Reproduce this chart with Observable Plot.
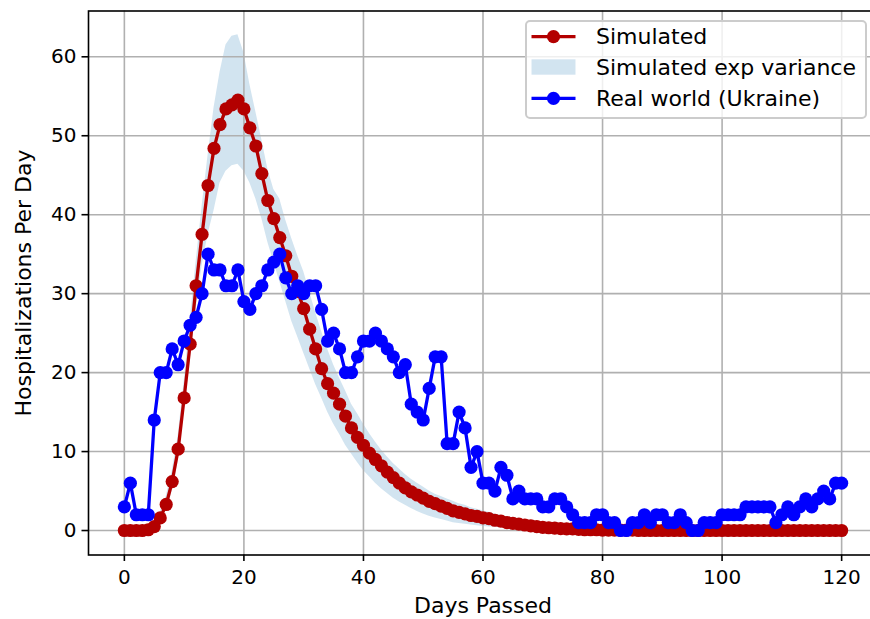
<!DOCTYPE html>
<html><head><meta charset="utf-8">
<script src="https://cdn.jsdelivr.net/npm/d3@7"></script>
<script src="https://cdn.jsdelivr.net/npm/@observablehq/plot@0.6"></script>
<style>
html,body{margin:0;padding:0;background:#fff;overflow:hidden;}
#chart{width:870px;height:619px;overflow:hidden;position:relative;}
#chart svg{max-width:none !important;display:block;}
</style></head><body><div id="chart"></div>
<script>
// Simulated hospitalizations per day (days 0..120)
const simulated = [
  0,0,0,0,0.1,0.5,1.6,3.3,6.2,10.3,
  16.8,23.6,31.0,37.5,43.7,48.4,51.4,53.4,53.9,54.5,
  53.4,51.0,48.7,45.2,41.8,39.5,37.1,34.8,32.2,30.3,
  28.1,25.5,23.0,20.5,18.6,17.4,16.0,14.5,13.0,11.8,
  10.8,9.8,9.0,8.2,7.4,6.7,6.0,5.4,4.9,4.5,
  4.1,3.7,3.4,3.1,2.8,2.5,2.3,2.1,1.9,1.8,
  1.6,1.5,1.3,1.2,1.0,0.9,0.8,0.7,0.6,0.5,
  0.4,0.35,0.3,0.25,0.2,0.2,0.15,0.1,0.1,0.1,
  0.05,0.05,0.05,0.05,0.05,0.05,0,0,0,0,
  0,0,0,0,0,0,0,0,0,0,
  0,0,0,0,0,0,0,0,0,0,
  0,0,0,0,0,0,0,0,0,0,
  0
];
// Simulated exp variance band
const varianceLow = [
  0,0,0,0,0,0.2,1.0,2.5,5.0,8.8,
  15.0,21.5,28.0,33.5,37.5,40.5,44.0,45.5,46.2,46.4,
  45.5,44.0,42.0,39.5,36.5,34.0,31.5,29.0,26.5,24.5,
  22.5,20.5,18.5,16.8,15.0,13.5,12.2,10.8,9.7,8.6,
  7.6,6.8,6.0,5.3,4.7,4.1,3.6,3.2,2.8,2.4,
  2.1,1.8,1.6,1.4,1.2,1.0,0.9,0.8,0.7,0.6,
  0.5,0.45,0.4,0.35,0.3,0.25,0.2,0.2,0.15,0.1,
  0.1,0.1,0.05,0.05,0,0,0,0,0,0,
  0,0,0,0,0,0,0,0,0,0,
  0,0,0,0,0,0,0,0,0,0,
  0,0,0,0,0,0,0,0,0,0,
  0,0,0,0,0,0,0,0,0,0,
  0
];
const varianceHigh = [
  0,0,0,0.1,0.3,0.9,2.3,4.3,7.5,12.0,
  18.8,26.5,34.0,41.0,47.5,53.5,58.0,61.5,62.6,62.8,
  60.5,56.5,53.0,49.5,45.8,43.2,42.0,39.3,37.0,34.8,
  32.8,30.2,27.6,25.2,23.0,21.0,19.3,17.7,16.0,14.8,
  13.5,12.3,11.2,10.2,9.3,8.5,7.8,7.1,6.5,6.0,
  5.5,5.0,4.6,4.3,4.0,3.7,3.4,3.2,2.9,2.7,
  2.5,2.3,2.1,1.9,1.7,1.5,1.3,1.2,1.0,0.9,
  0.8,0.7,0.6,0.5,0.4,0.35,0.3,0.25,0.2,0.2,
  0.15,0.15,0.1,0.1,0.1,0.1,0.05,0.05,0.05,0.05,
  0,0,0,0,0,0,0,0,0,0,
  0,0,0,0,0,0,0,0,0,0,
  0,0,0,0,0,0,0,0,0,0,
  0
];
// Real world (Ukraine)
const realWorld = [
  3,6,2,2,2,14,20,20,23,21,
  24,26,27,30,35,33,33,31,31,33,
  29,28,30,31,33,34,35,32,30,31,
  30,31,31,28,24,25,23,20,20,22,
  24,24,25,24,23,22,20,21,16,15,
  14,18,22,22,11,11,15,13,8,10,
  6,6,5,8,7,4,5,4,4,4,
  3,3,4,4,3,2,1,1,1,2,
  2,1,1,0,0,1,1,2,1,2,
  2,1,1,2,1,0,0,1,1,1,
  2,2,2,2,3,3,3,3,3,1,
  2,3,2,3,4,3,4,5,4,6,
  6
];
const xTicks = [0, 20, 40, 60, 80, 100, 120];
const yTicks = [0, 10, 20, 30, 40, 50, 60];
const seriesNames = ["Simulated", "Simulated exp variance", "Real world (Ukraine)"];
const xLabel = "Days Passed";
const yLabel = "Hospitalizations Per Day";

const rows = simulated.map((v, i) => ({
  day: i, sim: v, lo: varianceLow[i], hi: varianceHigh[i], real: realWorld[i]
}));

const FONT = "DejaVu Sans";
const FS = 22, TFS = 20;
const RED = "#b30000", BLUE = "#0000ff", BAND = "#1f77b4";
const LW = 3.3, R = 6.6;

const plot = Plot.plot({
  width: 878, height: 619,
  marginLeft: 88, marginRight: 1, marginTop: 10.5, marginBottom: 64.5,
  style: {fontFamily: FONT, fontSize: FS + "px", color: "black", background: "white", maxWidth: "none"},
  x: {domain: [-6, 126]},
  y: {domain: [-3.1, 65.8]},
  marks: [
    Plot.areaY(rows, {x: "day", y1: "lo", y2: "hi", fill: BAND, fillOpacity: 0.2}),
    Plot.gridX(xTicks, {stroke: "#b0b0b0", strokeOpacity: 1, strokeWidth: 1.6}),
    Plot.gridY(yTicks, {stroke: "#b0b0b0", strokeOpacity: 1, strokeWidth: 1.6}),
    Plot.line(rows, {x: "day", y: "sim", stroke: RED, strokeWidth: LW}),
    Plot.dot(rows, {x: "day", y: "sim", fill: RED, r: R}),
    Plot.line(rows, {x: "day", y: "real", stroke: BLUE, strokeWidth: LW}),
    Plot.dot(rows, {x: "day", y: "real", fill: BLUE, r: R}),
    Plot.frame({stroke: "black", strokeWidth: 1.6}),
    Plot.axisX(xTicks, {tickSize: 6.5, tickPadding: 8, strokeWidth: 1.6, label: null, fontSize: TFS, tickFormat: d => String(d)}),
    Plot.axisY(yTicks, {tickSize: 6.5, tickPadding: 5.5, strokeWidth: 1.6, label: null, fontSize: TFS, tickFormat: d => String(d)}),
    Plot.text([xLabel], {frameAnchor: "bottom", dy: 50.5, text: d => d, textAnchor: "middle", lineAnchor: "middle", fill: "black"}),
    Plot.text([yLabel], {frameAnchor: "left", dx: -65, rotate: -90, text: d => d, textAnchor: "middle", lineAnchor: "middle", fill: "black"})
  ]
});
plot.style.maxWidth = "none";

// Legend (matplotlib-style box in the upper right of the axes)
const svg = d3.select(plot);
const lg = svg.append("g").attr("font-family", FONT).attr("font-size", FS)
  .attr("fill", "black").attr("text-anchor", "start");
lg.append("rect").attr("x", 526).attr("y", 21).attr("width", 340).attr("height", 97)
  .attr("rx", 4).attr("fill", "white").attr("fill-opacity", 0.8)
  .attr("stroke", "#cccccc").attr("stroke-width", 2);
const rowsY = [36.7, 67, 98.3];
lg.append("line").attr("x1", 531.5).attr("x2", 575.5).attr("y1", rowsY[0]).attr("y2", rowsY[0])
  .attr("stroke", RED).attr("stroke-width", LW);
lg.append("circle").attr("cx", 553.5).attr("cy", rowsY[0]).attr("r", R).attr("fill", RED);
lg.append("rect").attr("x", 531.5).attr("y", rowsY[1] - 7.7).attr("width", 44).attr("height", 15.4)
  .attr("fill", BAND).attr("fill-opacity", 0.2);
lg.append("line").attr("x1", 531.5).attr("x2", 575.5).attr("y1", rowsY[2]).attr("y2", rowsY[2])
  .attr("stroke", BLUE).attr("stroke-width", LW);
lg.append("circle").attr("cx", 553.5).attr("cy", rowsY[2]).attr("r", R).attr("fill", BLUE);
seriesNames.forEach((name, i) => {
  lg.append("text").attr("x", 596).attr("y", rowsY[i] + 7.5).attr("text-anchor", "start").text(name);
});

document.getElementById("chart").appendChild(plot);
</script></body></html>
